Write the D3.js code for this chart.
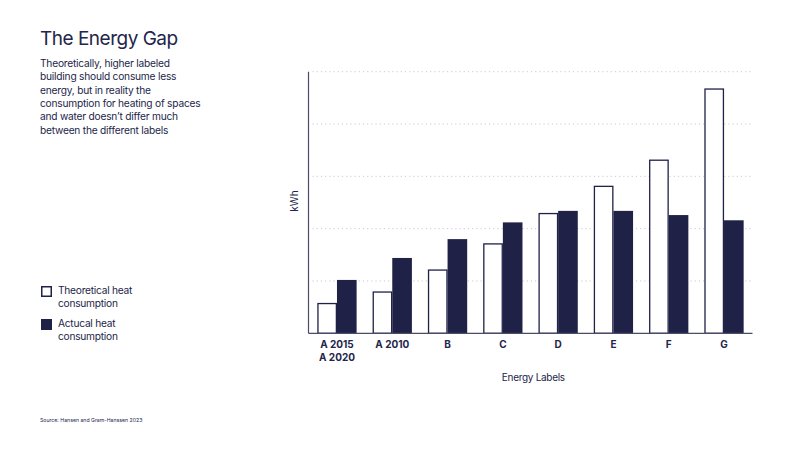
<!DOCTYPE html>
<html>
<head>
<meta charset="utf-8">
<script src="https://cdn.jsdelivr.net/npm/d3@7"></script>
<style>
  html, body { margin: 0; padding: 0; background: #ffffff; }
  svg { display: block; }
  text { font-family: Inter, "Noto Sans", sans-serif; fill: #23254a; }
</style>
</head>
<body>
<svg id="chart" width="804" height="452"></svg>
<script>
const categories = ["A 2015\nA 2020", "A 2010", "B", "C", "D", "E", "F", "G"];
const theoretical = [29, 40, 61, 86, 115, 141, 166, 234];
const actual = [51, 72, 90, 106, 117, 117, 113, 108];
const yTicks = [0, 50, 100, 150, 200, 250];
const seriesNames = ["Theoretical heat\nconsumption", "Actucal heat\nconsumption"];
const titleText = "The Energy Gap";
const bodyLines = [
  "Theoretically, higher labeled",
  "building should consume less",
  "energy, but in reality the",
  "consumption for heating of spaces",
  "and water doesn\u2019t differ much",
  "between the different labels"
];
const sourceText = "Source: Hansen and Gram-Hanssen 2023";

const navy = "#1f2147";
const svg = d3.select("#chart");

const m = { left: 308.5, right: 752.5, top: 71.7, bottom: 333.3 };
const x = d3.scaleBand().domain(categories).range([m.left, m.right]).paddingInner(0.29).paddingOuter(0.16);
const xs = d3.scaleBand().domain([0, 1]).range([0, x.bandwidth()]);
const y = d3.scaleLinear().domain([0, 250]).range([m.bottom, m.top]);

// gridlines
svg.append("g").selectAll("line").data(yTicks.slice(1)).join("line")
  .attr("x1", m.left + 4).attr("x2", m.right)
  .attr("y1", d => y(d)).attr("y2", d => y(d))
  .attr("stroke", "#c9c9d2").attr("stroke-width", 1)
  .attr("stroke-dasharray", "1.2,3");

// bars
const data = categories.map((c, i) => ({ c, v: [theoretical[i], actual[i]] }));
const groups = svg.append("g").selectAll("g").data(data).join("g")
  .attr("transform", d => `translate(${x(d.c)},0)`);
groups.append("rect")
  .attr("x", xs(0) + 0.6).attr("width", xs.bandwidth() - 1.2)
  .attr("y", d => y(d.v[0]) + 0.6).attr("height", d => y(0) - y(d.v[0]) - 0.6)
  .attr("fill", "#ffffff").attr("stroke", navy).attr("stroke-width", 1.3);
groups.append("rect")
  .attr("x", xs(1)).attr("width", xs.bandwidth())
  .attr("y", d => y(d.v[1])).attr("height", d => y(0) - y(d.v[1]))
  .attr("fill", navy);

// axes
svg.append("line").attr("x1", m.left).attr("x2", m.left).attr("y1", m.top).attr("y2", m.bottom)
  .attr("stroke", "#4a4c6a").attr("stroke-width", 1.2);
svg.append("line").attr("x1", m.left).attr("x2", m.right).attr("y1", m.bottom).attr("y2", m.bottom)
  .attr("stroke", "#4a4c6a").attr("stroke-width", 1.2);

// x labels
const xl = svg.append("g").selectAll("text").data(categories).join("text")
  .attr("x", d => x(d) + x.bandwidth() / 2)
  .attr("y", 347.5)
  .attr("text-anchor", "middle")
  .attr("font-size", 10)
  .attr("font-weight", 700);
xl.each(function(d) {
  d.split("\n").forEach((line, i) => {
    d3.select(this).append("tspan").attr("x", x(d) + x.bandwidth() / 2).attr("dy", i ? 13.4 : 0).text(line);
  });
});

svg.append("text").attr("x", 533.3).attr("y", 380.7)
  .attr("text-anchor", "middle").attr("font-size", 10).attr("letter-spacing", -0.3).text("Energy Labels");
svg.append("text").attr("transform", "translate(298,201) rotate(-90)")
  .attr("text-anchor", "middle").attr("font-size", 10).text("kWh");

// title and body
svg.append("text").attr("x", 40).attr("y", 45).attr("font-size", 19).attr("font-weight", 400)
  .attr("letter-spacing", -0.5).text(titleText);
svg.append("g").selectAll("text").data(bodyLines).join("text")
  .attr("x", 40).attr("y", (d, i) => 66.7 + i * 13.4)
  .attr("font-size", 10.2).attr("letter-spacing", -0.22).text(d => d);

// legend
const leg = svg.append("g").selectAll("g").data(seriesNames).join("g")
  .attr("transform", (d, i) => `translate(41,${286 + i * 33})`);
leg.append("rect").attr("x", 0.75).attr("y", 0.75).attr("width", 9.5).attr("height", 9.5)
  .attr("fill", (d, i) => i ? navy : "#fff").attr("stroke", navy).attr("stroke-width", 1.5);
leg.append("text").attr("x", 17).attr("y", 8.2).attr("font-size", 10.2).attr("letter-spacing", -0.25)
  .each(function(d) {
    d.split("\n").forEach((line, i) => {
      d3.select(this).append("tspan").attr("x", 17).attr("dy", i ? 13 : 0).text(line);
    });
  });

svg.append("text").attr("x", 40).attr("y", 421.5).attr("font-size", 5.2).text(sourceText);
</script>
</body>
</html>
